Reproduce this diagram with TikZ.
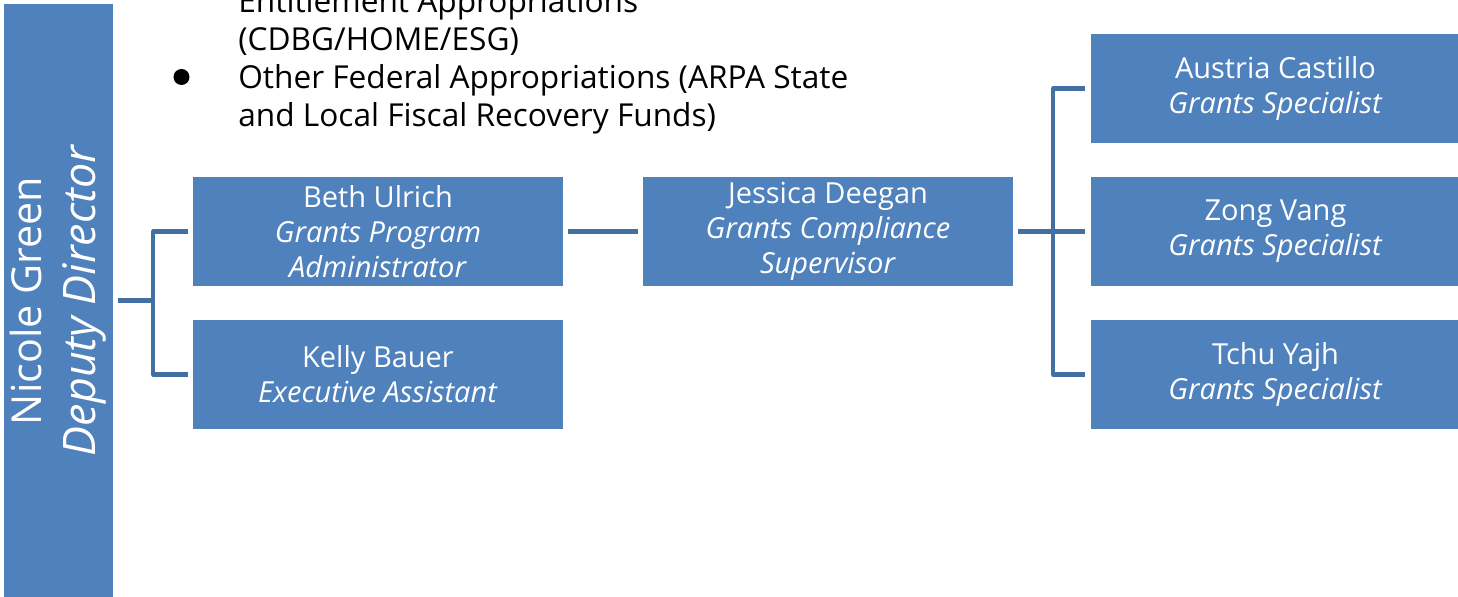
\documentclass[tikz,border=0pt]{standalone}
\usepackage{fontspec}
\setmainfont{Open Sans}
\definecolor{boxblue}{HTML}{4F81BD}
\definecolor{linkblue}{HTML}{4270A2}

\begin{document}
\begin{tikzpicture}[
    x=0.02cm, y=-0.02cm,
    staff/.style={rectangle, fill=boxblue, text=white, minimum width=7.4cm, minimum height=2.18cm, align=center, inner sep=0pt, font=\fontsize{16.5}{20}\selectfont},
    head/.style={rectangle, fill=boxblue, minimum width=2.18cm, minimum height=11.86cm, inner sep=0pt},
    link/.style={draw=linkblue, line width=2.3pt, line join=round},
    note/.style={anchor=base west, align=left, inner sep=0pt, font=\fontsize{18}{21.8}\selectfont}
]
    \useasboundingbox (0,0) rectangle (1458,597);

    % Director bar
    \node[head] (bar) at (58.5,300.5) {};
    \node[rotate=90, align=center, text=white, inner sep=0pt, font=\fontsize{23.5}{31}\selectfont] (barname) at (58,301) {Nicole Green\\{\fontsize{25.5}{31}\selectfont\itshape Deputy Director}};

    % Funding notes
    \node[note] (funds) at (238,127) {Entitlement Appropriations\\(CDBG/HOME/ESG)\\Other Federal Appropriations (ARPA State\\and Local Fiscal Recovery Funds)};
    \node[circle, fill=black, inner sep=0pt, minimum size=0.32cm] (bullet) at (181.5,77) {};

    % Staff
    \node[staff] (beth) at (378,231.5) {Beth Ulrich\\\textit{Grants Program}\\\textit{Administrator}};
    \node[staff] (kelly) at (378,374.5) {Kelly Bauer\\\textit{Executive Assistant}};
    \node[staff] (jessica) at (828,231.5) {Jessica Deegan\\\textit{Grants Compliance}\\\textit{Supervisor}};
    \node[staff] (austria) at (1275.5,88.5) {Austria Castillo\\\textit{Grants Specialist}};
    \node[staff] (zong) at (1275.5,231.5) {Zong Vang\\\textit{Grants Specialist}};
    \node[staff] (tchu) at (1275.5,374.5) {Tchu Yajh\\\textit{Grants Specialist}};

    % Connectors
    \draw[link] ([xshift=0.1cm]bar.east) -- ([xshift=0.8cm]bar.east);
    \draw[link] ([xshift=-0.1cm]beth.west) -| ([xshift=0.8cm]bar.east) |- ([xshift=-0.1cm]kelly.west);
    \draw[link] ([xshift=0.1cm]beth.east) -- ([xshift=-0.1cm]jessica.west);
    \draw[link] ([xshift=0.1cm]jessica.east) -- ([xshift=-0.1cm]zong.west);
    \draw[link] ([xshift=-0.1cm]austria.west) -| ([xshift=0.8cm]jessica.east) |- ([xshift=-0.1cm]tchu.west);

\end{tikzpicture}
\end{document}
